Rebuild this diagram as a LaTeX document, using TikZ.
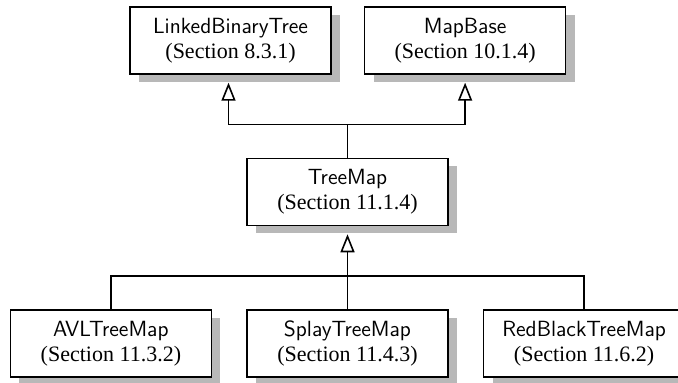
\documentclass[tikz,border=0pt]{standalone}
\usepackage{fontspec}
\setmainfont{Liberation Serif}
\usepackage{tikz}
\usetikzlibrary{arrows.meta,positioning,shadows}

\begin{document}
\begin{tikzpicture}[
    classbox/.style={rectangle, draw, line width=0.8pt, fill=white, align=center,
        font=\fontsize{11}{12.5}\selectfont,
        minimum width=100.5pt, minimum height=33.5pt, inner sep=2pt,
        drop shadow={shadow xshift=4.5pt, shadow yshift=-4pt, fill=black!28, opacity=1}},
    inherit/.style={-{Triangle[open, length=9pt, width=7pt, fill=white]}, line width=0.8pt},
    bus/.style={line width=0.8pt}
]
\useasboundingbox (0,0) rectangle (339pt,-191.5pt);

% Middle
\node[classbox] (tree) at (173.75pt,-96pt) {{\sffamily TreeMap}\\(Section 11.1.4)};

% Parents
\node[classbox, above=41.5pt of tree, xshift=-58.5pt] (lbt) {{\sffamily LinkedBinaryTree}\\(Section 8.3.1)};
\node[classbox, right=16pt of lbt] (mapbase) {{\sffamily MapBase}\\(Section 10.1.4)};

% Subclasses
\node[classbox, below=41.5pt of tree] (splay) {{\sffamily SplayTreeMap}\\(Section 11.4.3)};
\node[classbox, left=17pt of splay] (avl) {{\sffamily AVLTreeMap}\\(Section 11.3.2)};
\node[classbox, right=17pt of splay] (redblack) {{\sffamily RedBlackTreeMap}\\(Section 11.6.2)};

% Edges
\draw[inherit] (tree.north) -- ++(0,16.5pt) -| ([xshift=-1pt, yshift=-4pt]lbt.south);
\draw[inherit] (tree.north) -- ++(0,16.5pt) -| ([yshift=-4pt]mapbase.south);
\draw[bus] (avl.north) -- ++(0,16.5pt) -| (redblack.north);
\draw[inherit] (splay.north) -- ([yshift=-4pt]tree.south);

\end{tikzpicture}
\end{document}
